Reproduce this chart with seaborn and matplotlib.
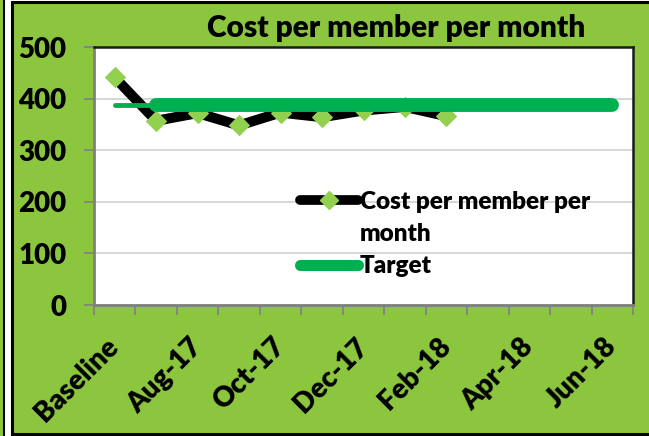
import matplotlib
matplotlib.use("Agg")
import matplotlib.pyplot as plt
import seaborn as sns
import pandas as pd
from matplotlib.lines import Line2D
from matplotlib.patches import Rectangle

# ---- data ----
categories = ["Baseline", "Jul-17", "Aug-17", "Sep-17", "Oct-17", "Nov-17", "Dec-17",
              "Jan-18", "Feb-18", "Mar-18", "Apr-18", "May-18", "Jun-18"]
cost = [441, 357, 372, 348, 373, 364, 377, 384, 366]
target = [388, 388, 388, 388, 388, 388, 388, 388, 388, 388, 388, 388, 388]
y_ticks = [0, 100, 200, 300, 400, 500]
title = "Cost per member per month"
series_names = ["Cost per member per\nmonth", "Target"]

sns.set_theme(style="white")
plt.rcParams['font.family'] = ['Lato', 'DejaVu Sans']
plt.rcParams['font.weight'] = 'bold'
for k in ['text.color', 'axes.labelcolor', 'xtick.color', 'ytick.color']:
    plt.rcParams[k] = 'black'

BG = '#8CC63F'
MARK = '#92D050'
TGT = '#00B050'

W, H = 649, 436
fig = plt.figure(figsize=(W / 100, H / 100), dpi=100)
fig.patch.set_facecolor('white')
# green chart area with black frame
fig.patches.append(Rectangle((0, 0), 3 / W, 1, transform=fig.transFigure,
                             facecolor=BG, edgecolor='none', zorder=-5))
fig.add_artist(Line2D([3.5 / W, 3.5 / W], [0, 1], color='black', lw=1.5,
                      transform=fig.transFigure, zorder=-4))
fig.patches.append(Rectangle((11.5 / W, 2 / H), 1, (H - 4) / H, transform=fig.transFigure,
                             facecolor=BG, edgecolor='black', lw=2.2, zorder=-5))

ax = fig.add_axes([94 / W, 1 - 305 / H, (633 - 94) / W, (305 - 47) / H])
ax.set_zorder(2)
ax.set_facecolor('white')

df_cost = pd.DataFrame({"idx": range(len(cost)), "value": cost})
df_tgt = pd.DataFrame({"idx": range(len(target)), "value": target})

sns.lineplot(data=df_cost, x="idx", y="value", ax=ax, color='black', lw=7.3,
             marker='D', markersize=10.5, markerfacecolor=MARK, markeredgecolor=MARK,
             solid_joinstyle='miter', zorder=3)
# target: thin first segment, thick remainder
sns.lineplot(data=df_tgt.iloc[:2], x="idx", y="value", ax=ax, color=TGT, lw=3.5,
             solid_capstyle='round', zorder=4)
sns.lineplot(data=df_tgt.iloc[1:], x="idx", y="value", ax=ax, color=TGT, lw=10,
             solid_capstyle='round', zorder=4)

ax.set_xlim(-0.5, len(categories) - 0.5)
ax.set_ylim(0, 500)
ax.set_yticks(y_ticks)
ax.set_yticklabels([str(v) for v in y_ticks], fontsize=20, fontweight='heavy')
ax.set_xticks(range(0, len(categories), 2))
ax.set_xticklabels(categories[::2], rotation=45, ha='right', va='center',
                   rotation_mode='anchor', fontsize=20, fontweight='heavy')
ax.set_xticks([i - 0.5 for i in range(len(categories) + 1)], minor=True)
ax.tick_params(axis='x', which='major', length=0, pad=27, colors='black')
ax.tick_params(axis='x', which='minor', length=7, width=1.2, color='#808080', direction='out', bottom=True)
ax.tick_params(axis='y', length=7, width=1.2, color='#808080', pad=13, labelcolor='black', left=True)
ax.set_xlabel("")
ax.set_ylabel("")
ax.grid(axis='y', color='#D0D0D0', lw=1.2)
ax.grid(axis='x', visible=False)
ax.set_axisbelow(True)
for s in ['left', 'bottom']:
    ax.spines[s].set_color('#808080')
    ax.spines[s].set_linewidth(2)
for s in ['top', 'right']:
    ax.spines[s].set_color('#1a1a1a')
    ax.spines[s].set_linewidth(1.8)

fig.text(396 / W, 1 - 28 / H, title, ha='center', va='center', fontsize=21.5,
         fontweight='heavy', color='black')

handles = [Line2D([], [], color='black', lw=7, marker='D', markersize=9,
                  markerfacecolor=MARK, markeredgecolor=MARK, solid_capstyle='round'),
           Line2D([], [], color='none'),
           Line2D([], [], color=TGT, lw=8, solid_capstyle='round')]
first, second = series_names[0].split("\n")
labels = [first, second, series_names[1]]
ax.legend(handles, labels, loc='upper left', bbox_to_anchor=((300 - 94) / 539, (305 - 191) / 258),
          frameon=False, handlelength=2.4, handletextpad=0.05,
          labelspacing=0.42, borderpad=0, borderaxespad=0, prop={'weight': 'heavy', 'size': 17.5})

fig.savefig("out.png", dpi=100, facecolor=fig.get_facecolor())
